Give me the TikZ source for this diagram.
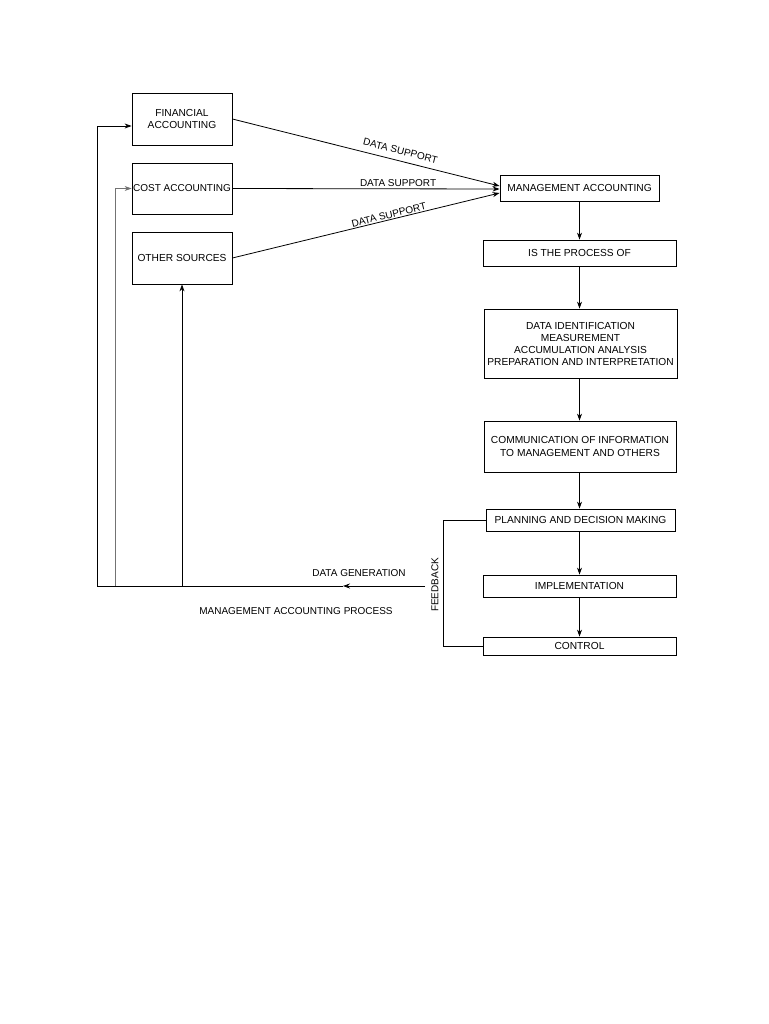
\documentclass[tikz,border=0pt]{standalone}
\usepackage{fontspec}
\setmainfont{Liberation Sans}
\usetikzlibrary{arrows.meta,calc}
\begin{document}
\begin{tikzpicture}[x=1pt,y=-1pt,
  box/.style={draw,line width=0.8pt,inner sep=0pt,align=center,font=\fontsize{10.2}{12}\selectfont},
  lbl/.style={font=\fontsize{10}{12}\selectfont,inner sep=1pt},
  conn/.style={line width=0.8pt},
  arr/.style={conn,-{Stealth[length=7pt,width=5pt]}}]
\useasboundingbox (0,0) rectangle (768,1024);
\node[box,minimum width=100,minimum height=52] (FA) at (182,119) {FINANCIAL\\ACCOUNTING};
\node[box,minimum width=100,minimum height=51,font=\fontsize{10}{12}\selectfont] (CA) at (182,188.5) {COST ACCOUNTING};
\node[box,minimum width=100,minimum height=52] (OS) at (182,258) {OTHER SOURCES};
\node[box,minimum width=159,minimum height=26] (MA) at (579.5,188) {MANAGEMENT ACCOUNTING};
\node[box,minimum width=193,minimum height=26] (IP) at (579.5,253) {IS THE PROCESS OF};
\node[box,minimum width=193,minimum height=69] (DI) at (580.5,343.5) {DATA IDENTIFICATION\\MEASUREMENT\\ACCUMULATION ANALYSIS\\PREPARATION AND INTERPRETATION};
\node[box,minimum width=192,minimum height=51,font=\fontsize{10.2}{13}\selectfont] (CM) at (580,446.5) {COMMUNICATION OF INFORMATION\\TO MANAGEMENT AND OTHERS};
\node[box,minimum width=189,minimum height=22] (PL) at (580.5,520) {PLANNING AND DECISION MAKING};
\node[box,minimum width=193,minimum height=22] (IM) at (579.5,586) {IMPLEMENTATION};
\node[box,minimum width=193,minimum height=18] (CT) at (579.5,646) {CONTROL};

% data support
\coordinate (m1) at ($(MA.west)+(0,-2)$);
\coordinate (m2) at ($(MA.west)+(0,1)$);
\coordinate (m3) at ($(MA.west)+(0,5)$);
\draw[arr] (FA.east) -- node[lbl,sloped,above=5pt,pos=0.62] {DATA SUPPORT} (m1);
\draw[arr] (CA.east) -- node[lbl,above,pos=0.62,yshift=1pt] {DATA SUPPORT} (m2);
\draw[arr] (OS.east) -- node[lbl,sloped,above,pos=0.59] {DATA SUPPORT} (m3);

% vertical chain
\draw[arr] (MA.south) -- (IP.south |- IP.north);
\draw[arr] (IP.south) -- (IP.south |- DI.north);
\draw[arr] (IP.south |- DI.south) -- (IP.south |- CM.north);
\draw[arr] (IP.south |- CM.south) -- (IP.south |- PL.north);
\draw[arr] (IP.south |- PL.south) -- (IP.south |- IM.north);
\draw[arr] (IP.south |- IM.south) -- (IP.south |- CT.north);

% feedback
\coordinate (fb1) at (443,520);
\coordinate (fb2) at (443,646);
\draw[conn] (PL.west) -- (fb1) -- (fb2) -- (CT.west);
\node[lbl,rotate=90] (FBL) at (435,585) {FEEDBACK};

% data generation
\coordinate (dg) at (425,586);
\coordinate (dgm) at (343,586);
\coordinate (c1) at (97,586);
\coordinate (c2) at (115,586);
\coordinate (c3) at (182,586);
\draw[arr] (dg) -- (dgm);
\draw[conn] (dgm) -- (c1);
\node[lbl] (DGL) at (359,573) {DATA GENERATION};
\node[lbl] (MAP) at (296,611) {MANAGEMENT ACCOUNTING PROCESS};
\draw[arr] (c1) |- ($(FA.west)+(0,7)$);
\draw[arr,draw=black!55] (c2) |- (CA.west);
\draw[arr] (c3) -- (OS.south);
\end{tikzpicture}
\end{document}
